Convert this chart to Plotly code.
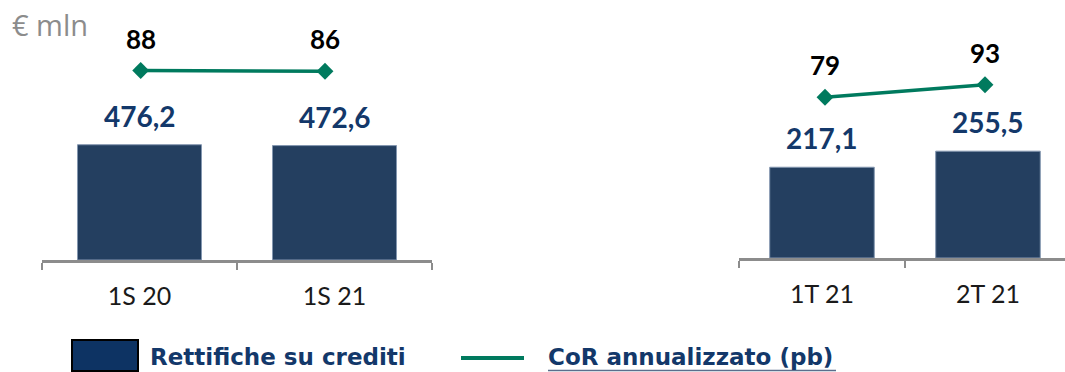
import plotly.graph_objects as go

# Data
periods_half = ["1S 20", "1S 21"]
periods_quarter = ["1T 21", "2T 21"]
rettifiche_half = [476.2, 472.6]
rettifiche_quarter = [217.1, 255.5]
cor_half = [88, 86]
cor_quarter = [79, 93]

W, H = 1065, 372
BAR_COLOR = "#243F60"
LABEL_NAVY = "#13386A"
LINE_GREEN = "#007A5E"
AXIS_GREY = "#8C8C8C"
FONT = "Lato"
LEGEND_FONT = "DejaVu Sans"


def fmt_it(v):
    return f"{v:.1f}".replace(".", ",")


def px_x(p):
    return p / W


def px_y(p):
    return (H - p) / H


fig = go.Figure()

# Bars
fig.add_trace(go.Bar(
    x=periods_half, y=rettifiche_half, xaxis="x", yaxis="y",
    width=0.636, marker=dict(color=BAR_COLOR, line=dict(color="#8497B0", width=1)),
    hoverinfo="skip", showlegend=False,
))
fig.add_trace(go.Bar(
    x=periods_quarter, y=rettifiche_quarter, xaxis="x2", yaxis="y2",
    width=0.63, marker=dict(color=BAR_COLOR, line=dict(color="#8497B0", width=1)),
    hoverinfo="skip", showlegend=False,
))

# CoR lines
line_style = dict(color=LINE_GREEN, width=3.5)
marker_style = dict(symbol="diamond", size=13, color=LINE_GREEN)
fig.add_trace(go.Scatter(
    x=periods_half, y=cor_half, xaxis="x3", yaxis="y3", mode="lines+markers",
    line=line_style, marker=marker_style, hoverinfo="skip", showlegend=False,
))
fig.add_trace(go.Scatter(
    x=periods_quarter, y=cor_quarter, xaxis="x4", yaxis="y4", mode="lines+markers",
    line=line_style, marker=marker_style, hoverinfo="skip", showlegend=False,
))

annotations = []
# Bar value labels
for cats, vals, xr, yr in [(periods_half, rettifiche_half, "x", "y"),
                           (periods_quarter, rettifiche_quarter, "x2", "y2")]:
    for c, v in zip(cats, vals):
        annotations.append(dict(
            x=c, y=v, xref=xr, yref=yr, text=f"<b>{fmt_it(v)}</b>",
            showarrow=False, yanchor="middle", yshift=29,
            font=dict(family=FONT, size=28, color=LABEL_NAVY),
        ))
# CoR value labels
for cats, vals, xr, yr in [(periods_half, cor_half, "x3", "y3"),
                           (periods_quarter, cor_quarter, "x4", "y4")]:
    for c, v in zip(cats, vals):
        annotations.append(dict(
            x=c, y=v, xref=xr, yref=yr, text=f"<b>{v}</b>",
            showarrow=False, yanchor="middle", yshift=32,
            font=dict(family=FONT, size=26, color="#000000"),
        ))

# Unit label
annotations.append(dict(
    x=px_x(10), y=px_y(24), xref="paper", yref="paper", text="€ mln",
    showarrow=False, xanchor="left", yanchor="middle",
    font=dict(family="Open Sans", size=29, color=AXIS_GREY),
))
# Legend texts
annotations.append(dict(
    x=px_x(148), y=px_y(357), xref="paper", yref="paper",
    text="<b>Rettifiche su crediti</b>", showarrow=False,
    xanchor="left", yanchor="middle",
    font=dict(family=LEGEND_FONT, size=23, color=LABEL_NAVY),
))
annotations.append(dict(
    x=px_x(546), y=px_y(357), xref="paper", yref="paper",
    text="<b>CoR annualizzato (pb)</b>", showarrow=False,
    xanchor="left", yanchor="middle",
    font=dict(family=LEGEND_FONT, size=23, color=LABEL_NAVY),
))

shapes = [
    # legend swatch for bars
    dict(type="rect", xref="paper", yref="paper",
         x0=px_x(72), x1=px_x(138), y0=px_y(371), y1=px_y(340),
         fillcolor="#0D3363", line=dict(color="#000000", width=2)),
    # legend swatch for line
    dict(type="line", xref="paper", yref="paper",
         x0=px_x(461), x1=px_x(524), y0=px_y(358), y1=px_y(358),
         line=dict(color=LINE_GREEN, width=4)),
    # underline of line legend text
    dict(type="line", xref="paper", yref="paper",
         x0=px_x(548), x1=px_x(836), y0=px_y(370.5), y1=px_y(370.5),
         line=dict(color="#5A6E8C", width=1.5)),
]

xaxis_common = dict(
    type="category", showgrid=False, zeroline=False,
    showline=True, linecolor=AXIS_GREY, linewidth=3,
    ticks="outside", tickson="boundaries", ticklen=7, tickwidth=2,
    tickcolor=AXIS_GREY, ticklabelstandoff=12,
    tickfont=dict(family=FONT, size=25, color="#1A1A1A"),
    fixedrange=True,
)
hidden = dict(visible=False, showgrid=False, zeroline=False, fixedrange=True)

fig.update_layout(
    width=W, height=H,
    margin=dict(l=0, r=0, t=0, b=0),
    paper_bgcolor="white", plot_bgcolor="white",
    barmode="group",
    xaxis=dict(**xaxis_common, domain=[px_x(42), px_x(432)], range=[-0.5, 1.5],
               anchor="y"),
    yaxis=dict(**hidden, domain=[px_y(260), 1], range=[0, 1074], anchor="x"),
    xaxis2=dict(**xaxis_common, domain=[px_x(739), 1], range=[-0.5, 1.464],
                anchor="y2"),
    yaxis2=dict(**hidden, domain=[px_y(258), 1], range=[0, 617], anchor="x2"),
    xaxis3=dict(**hidden, type="category", overlaying="x", anchor="y3",
                range=[-0.5355, 1.5806]),
    yaxis3=dict(**hidden, overlaying="y", anchor="x3", range=[-385.75, 264.25]),
    xaxis4=dict(**hidden, type="category", overlaying="x2", anchor="y4",
                range=[-0.5375, 1.5]),
    yaxis4=dict(**hidden, overlaying="y2", anchor="x4", range=[-99.6, 187.1]),
    annotations=annotations,
    shapes=shapes,
)

fig.write_html("out.html")
